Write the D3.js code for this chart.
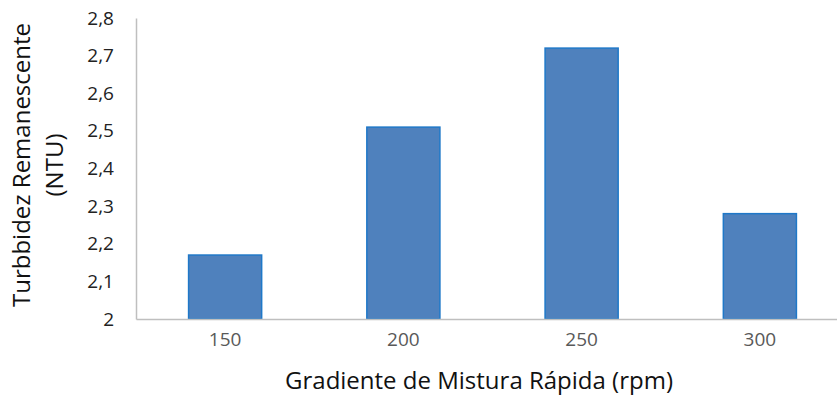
<!DOCTYPE html>
<html>
<head>
<meta charset="utf-8">
<script src="https://cdn.jsdelivr.net/npm/d3@7"></script>
<style>
  html, body { margin: 0; padding: 0; background: #fff; }
  svg { display: block; font-family: "Open Sans", "Noto Sans", sans-serif; }
</style>
</head>
<body>
<svg id="chart" width="837" height="408"></svg>
<script>
// Remaining turbidity by rapid-mix gradient
const categories = ["150", "200", "250", "300"];
const turbidity = [2.17, 2.51, 2.72, 2.28];
const yTicks = [2, 2.1, 2.2, 2.3, 2.4, 2.5, 2.6, 2.7, 2.8];

const svg = d3.select("#chart");
const margin = { left: 136, top: 18, bottom: 319 };
const plotRight = 849;

const x = d3.scaleBand()
  .domain(categories)
  .range([margin.left, plotRight])
  .paddingInner(0.59)
  .paddingOuter(0.295);

const y = d3.scaleLinear()
  .domain([2, 2.8])
  .range([margin.bottom, margin.top]);

const fmt = v => d3.format(".1f")(v).replace(".", ",").replace(/,0$/, "");

// Bars
svg.append("g")
  .selectAll("rect")
  .data(categories.map((c, i) => ({ c, v: turbidity[i] })))
  .join("rect")
  .attr("x", d => x(d.c))
  .attr("y", d => y(d.v))
  .attr("width", x.bandwidth())
  .attr("height", d => y(2) - y(d.v))
  .attr("fill", "#4F81BD")
  .attr("stroke", "#1F78C8")
  .attr("stroke-width", 1.5);

// Y axis
const yAxis = svg.append("g")
  .attr("transform", `translate(${margin.left},0)`)
  .call(d3.axisLeft(y).tickValues(yTicks).tickFormat(fmt).tickSize(0).tickPadding(22));
yAxis.select(".domain").attr("stroke", "#BFBFBF").attr("stroke-width", 1.5);
yAxis.selectAll("text")
  .attr("font-size", 19)
  .attr("fill", "#222")
  .attr("font-family", "Open Sans");

// X axis
const xAxis = svg.append("g")
  .attr("transform", `translate(0,${margin.bottom})`)
  .call(d3.axisBottom(x).tickSize(0).tickPadding(14));
xAxis.select(".domain").attr("stroke", "#BFBFBF").attr("stroke-width", 1.5);
xAxis.selectAll("text")
  .attr("font-size", 19)
  .attr("fill", "#595959")
  .attr("font-family", "Open Sans");

// Axis titles
svg.append("text")
  .attr("x", 479)
  .attr("y", 389)
  .attr("text-anchor", "middle")
  .attr("font-size", 24)
  .attr("fill", "#111")
  .text("Gradiente de Mistura Rápida (rpm)");

const yt = svg.append("text")
  .attr("transform", "translate(0,165) rotate(-90)")
  .attr("text-anchor", "middle")
  .attr("font-size", 24)
  .attr("fill", "#111");
yt.append("tspan").attr("x", 0).attr("y", 30).text("Turbbidez Remanescente");
yt.append("tspan").attr("x", 0).attr("y", 63).text("(NTU)");
</script>
</body>
</html>
